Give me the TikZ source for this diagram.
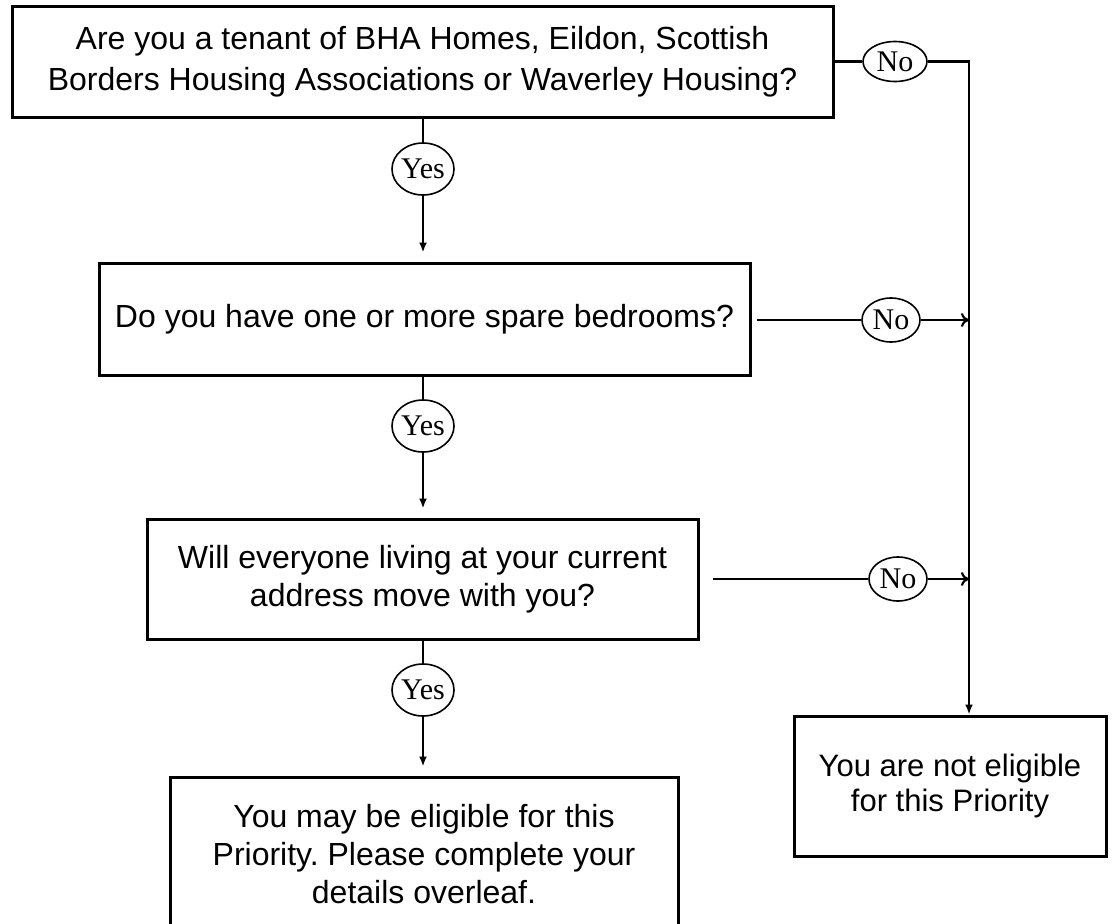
\documentclass[tikz,border=0pt]{standalone}
\usepackage{fontspec}
\setmainfont{Liberation Sans}
\newfontfamily\tnr{Liberation Serif}
\usetikzlibrary{arrows.meta,shapes.geometric}
\frenchspacing
\begin{document}
\begin{tikzpicture}[x=1pt,y=-1pt,
  qbox/.style={draw, line width=3pt, align=center, inner sep=0pt,
    font=\fontsize{32}{38}\selectfont},
  lab/.style={draw, ellipse, line width=1.6pt, inner sep=0pt,
    font=\tnr\fontsize{30}{30}\selectfont},
  conn/.style={line width=2.2pt},
  varr/.style={conn, -{Latex[length=10pt,width=8pt]}},
  harr/.style={conn, -{To[length=8pt,width=14pt]}}]
\useasboundingbox (0,0) rectangle (1112,924);
% boxes
\node[qbox, minimum width=821pt, minimum height=111pt,
  font=\fontsize{32}{41}\selectfont] (b1) at (422.5,61.5)
  {Are you a tenant of BHA Homes, Eildon, Scottish\\Borders Housing Associations or Waverley Housing?};
\node[qbox, minimum width=651pt, minimum height=112pt] (b2) at (424.5,319)
  {Do you have one or more spare bedrooms?};
\node[qbox, minimum width=551pt, minimum height=120pt] (b3) at (422.5,579)
  {Will everyone living at your current\\address move with you?};
\node[qbox, minimum width=508pt, minimum height=154pt] (b4) at (424,854)
  {You may be eligible for this\\Priority. Please complete your\\details overleaf.};
\node[qbox, minimum width=312pt, minimum height=140pt,
  font=\fontsize{31}{35}\selectfont] (b5) at (950,786)
  {You are not eligible\\for this Priority};
% labels
\node[lab, minimum width=64pt, minimum height=40pt] (n1) at (895,61.5) {No};
\node[lab, minimum width=58pt, minimum height=44pt] (n2) at (891,320) {No};
\node[lab, minimum width=58pt, minimum height=44pt] (n3) at (898,579) {No};
\node[lab, minimum width=62pt, minimum height=52pt] (y1) at (423,169) {Yes};
\node[lab, minimum width=62pt, minimum height=52pt] (y2) at (423,426) {Yes};
\node[lab, minimum width=62pt, minimum height=52pt] (y3) at (423,690) {Yes};
\coordinate (c1) at (969,61.5);
% connectors
\draw[conn] (b1) -- (n1);
\draw[varr] (n1) -- (c1) -- (c1 |- b5.north);
\draw[conn, shorten <=5pt] (b2.east |- n2) -- (n2);
\draw[harr] (n2) -- (c1 |- n2);
\draw[conn, shorten <=13pt] (b3.east |- n3) -- (n3);
\draw[harr] (n3) -- (c1 |- n3);
\draw[conn] (b1.south -| y1) -- (y1);
\draw[varr, shorten >=9pt] (y1) -- (y1 |- b2.north);
\draw[conn] (b2.south -| y2) -- (y2);
\draw[varr, shorten >=9pt] (y2) -- (y2 |- b3.north);
\draw[conn] (b3.south -| y3) -- (y3);
\draw[varr, shorten >=9pt] (y3) -- (y3 |- b4.north);
\end{tikzpicture}
\end{document}
